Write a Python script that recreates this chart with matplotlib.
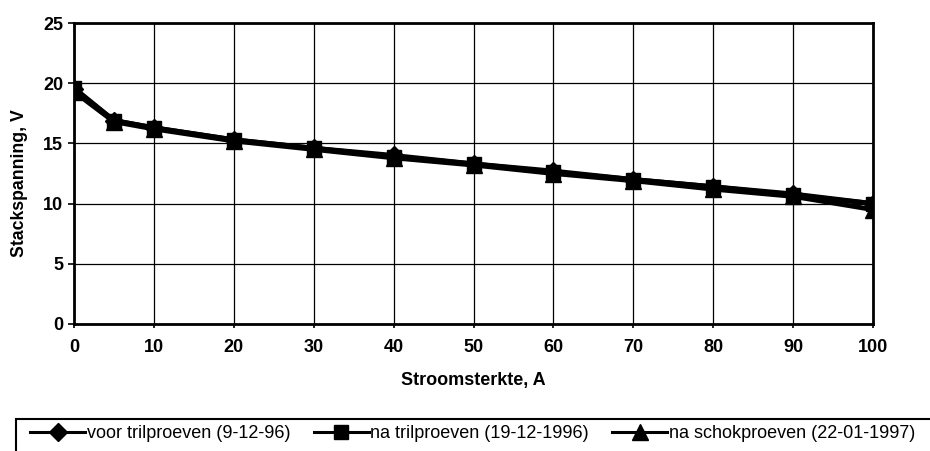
import matplotlib
matplotlib.use("Agg")
import matplotlib.pyplot as plt
from matplotlib.patches import Rectangle
from matplotlib.lines import Line2D

plt.rcParams['font.family'] = ['Liberation Sans', 'DejaVu Sans']

stroom = [0, 5, 10, 20, 30, 40, 50, 60, 70, 80, 90, 100]
voor_tril = [19.5, 16.9, 16.3, 15.3, 14.6, 14.0, 13.3, 12.7, 12.0, 11.4, 10.8, 10.0]
na_tril = [19.6, 16.9, 16.3, 15.3, 14.6, 13.9, 13.3, 12.6, 12.0, 11.4, 10.7, 10.0]
na_schok = [19.3, 16.8, 16.2, 15.2, 14.5, 13.8, 13.2, 12.5, 11.9, 11.2, 10.6, 9.5]

labels = ["voor trilproeven (9-12-96)", "na trilproeven (19-12-1996)", "na schokproeven (22-01-1997)"]
markers = ['D', 's', '^']
msizes = [9, 10, 12]
xticks = [0, 10, 20, 30, 40, 50, 60, 70, 80, 90, 100]
yticks = [0, 5, 10, 15, 20, 25]

W, H = 930, 451
fig = plt.figure(figsize=(W/100, H/100), dpi=100)
ax = fig.add_axes([74/W, 1 - 324/H, (873-74)/W, (324-23)/H])

for ys, m, ms, lab in zip([voor_tril, na_tril, na_schok], markers, msizes, labels):
    ax.plot(stroom, ys, color='black', lw=3.5, marker=m, ms=ms, label=lab)

ax.set_xlim(0, 100)
ax.set_ylim(0, 25)
ax.set_xticks(xticks)
ax.set_yticks(yticks)
ax.grid(True, color='black', lw=0.9)
ax.set_axisbelow(True)
for s in ax.spines.values():
    s.set_linewidth(2)
    s.set_color('black')
ax.tick_params(axis='both', direction='out', length=4.3, width=1.2, labelsize=13)
ax.tick_params(axis='y', pad=3.5)
ax.tick_params(axis='x', pad=8, length=3)
for t in ax.get_xticklabels() + ax.get_yticklabels():
    t.set_fontweight('bold')

ax.set_xlabel("Stroomsterkte, A", fontsize=13, fontweight='bold')
ax.set_ylabel("Stackspanning, V", fontsize=12.7, fontweight='bold')
ax.xaxis.set_label_coords(0.5, (324 - 372) / 301)
ax.yaxis.set_label_coords((28 - 74) / 799, (324 - 183) / 301)

# legend frame
fig.patches.append(Rectangle((16/W, -0.05), 1.0, 0.05 + (451-419)/H, transform=fig.transFigure,
                             fill=False, edgecolor='black', lw=1.5, clip_on=False))
proxies = [Line2D([], [], color='black', lw=2.2, marker=m, ms=ms) for m, ms in zip(markers, msizes)]
fs = 13
fspx = fs * 100 / 72
leg = fig.legend(handles=proxies, labels=labels, loc='center left',
                 bbox_to_anchor=(30/W, 1 - 434/H),
                 ncol=3, frameon=False, fontsize=fs, handlelength=55/fspx,
                 handletextpad=2/fspx, columnspacing=23/fspx,
                 borderpad=0, borderaxespad=0)

fig.savefig("out.png", dpi=100)
